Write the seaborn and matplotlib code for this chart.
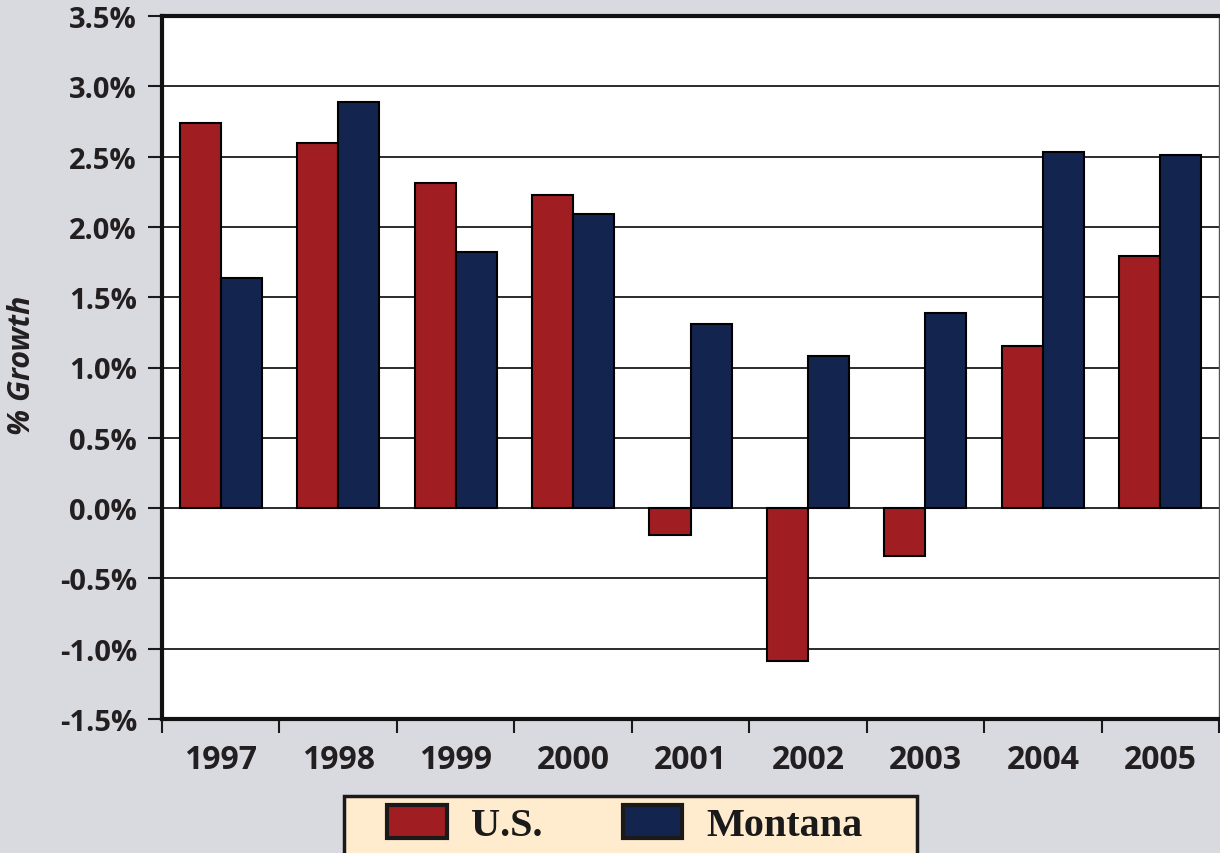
import pandas as pd
import numpy as np
import matplotlib

matplotlib.use("Agg")
import matplotlib.pyplot as plt
import seaborn as sns
from matplotlib.patches import Patch, Rectangle
from matplotlib.ticker import FixedLocator, FuncFormatter

# ข้อมูลอัตราการเติบโต (อ่านจากกราฟ)
years = ["1997", "1998", "1999", "2000", "2001", "2002", "2003", "2004", "2005"]
us_growth = [2.74, 2.60, 2.31, 2.23, -0.19, -1.09, -0.34, 1.15, 1.79]
montana_growth = [1.64, 2.89, 1.82, 2.09, 1.31, 1.08, 1.39, 2.53, 2.51]
regions = ["U.S.", "Montana"]
y_ticks = [-1.5, -1.0, -0.5, 0.0, 0.5, 1.0, 1.5, 2.0, 2.5, 3.0, 3.5]

RED = "#A01E22"
NAVY = "#13244E"
BG = "#D9DAE0"
INK = "#231F20"

df = pd.DataFrame(
    {
        "year": years * 2,
        "region": [regions[0]] * len(years) + [regions[1]] * len(years),
        "growth": us_growth + montana_growth,
    }
)

sns.set_style("white")
plt.rcParams["font.family"] = ["Open Sans", "DejaVu Sans"]

fig = plt.figure(figsize=(12.2, 8.54), dpi=100, facecolor=BG)
W, H = 1220, 854
ax = fig.add_axes([162 / W, 1 - 720 / H, (1219 - 162) / W, (720 - 17) / H])
ax.set_facecolor("white")
ax.set_axisbelow(True)

sns.barplot(
    data=df, x="year", y="growth", hue="region", palette=[RED, NAVY],
    edgecolor="black", linewidth=1.5, width=0.7, saturation=1,
    legend=False, ax=ax,
)

ax.set_xlim(-0.5, len(years) - 0.5)
ax.set_ylim(y_ticks[0], y_ticks[-1])

# เส้น grid แนวนอน
ax.yaxis.set_major_locator(FixedLocator(y_ticks))
ax.yaxis.set_major_formatter(FuncFormatter(lambda v, p: f"{v:.1f}%"))
ax.grid(axis="y", color="#1a1a1a", linewidth=1.3)
ax.grid(axis="x", visible=False)

# แกน x: tick ที่ขอบกลุ่ม, label ที่กึ่งกลาง
ax.xaxis.set_major_locator(FixedLocator(np.arange(-0.5, len(years), 1.0)))
ax.xaxis.set_major_formatter(FuncFormatter(lambda v, p: ""))
ax.set_xticks(np.arange(len(years)), years, minor=True)
ax.tick_params(axis="x", which="major", direction="out", length=10, width=1.5,
               color="#1a1a1a", bottom=True)
ax.tick_params(axis="x", which="minor", length=0, pad=17, labelsize=23,
               labelcolor=INK, bottom=True)
for lbl in ax.get_xticklabels(minor=True):
    lbl.set_fontweight("bold")
ax.tick_params(axis="y", direction="out", length=10, width=1.5, color="#1a1a1a",
               pad=8, labelsize=21, labelcolor=INK, left=True)
for lbl in ax.get_yticklabels():
    lbl.set_fontweight("bold")

ax.set_xlabel("")
ax.set_ylabel("")
ax.text(-0.1325, 0.505, "% Growth", transform=ax.transAxes, rotation=90,
        ha="center", va="center", fontsize=22, fontweight="bold",
        fontstyle="italic", color=INK)

for side in ["left", "top", "bottom"]:
    ax.spines[side].set_linewidth(3)
    ax.spines[side].set_color("#111111")
ax.spines["right"].set_linewidth(1)
ax.spines["right"].set_color("#555555")

# กล่อง legend ด้านล่าง
fig.add_artist(Rectangle((344 / W, -0.02), (917 - 344) / W, (854 - 797) / H + 0.02,
                         transform=fig.transFigure, facecolor="#FFEBCD",
                         edgecolor="#1a1a1a", linewidth=2.5))
handles = [Patch(facecolor=RED, edgecolor="#1a1a1a", linewidth=3),
           Patch(facecolor=NAVY, edgecolor="#1a1a1a", linewidth=3)]
fig.legend(handles, regions, loc="center", bbox_to_anchor=(625 / W, 1 - 825.5 / H),
           ncol=2, frameon=False, handlelength=1.47, handleheight=0.87,
           handletextpad=0.6, columnspacing=2.0,
           prop={"family": "Liberation Serif", "weight": "bold", "size": 29})
for t in fig.legends[0].get_texts():
    t.set_color("#1a1a1a")

fig.savefig("out.png", dpi=100, facecolor=BG)
plt.close(fig)
